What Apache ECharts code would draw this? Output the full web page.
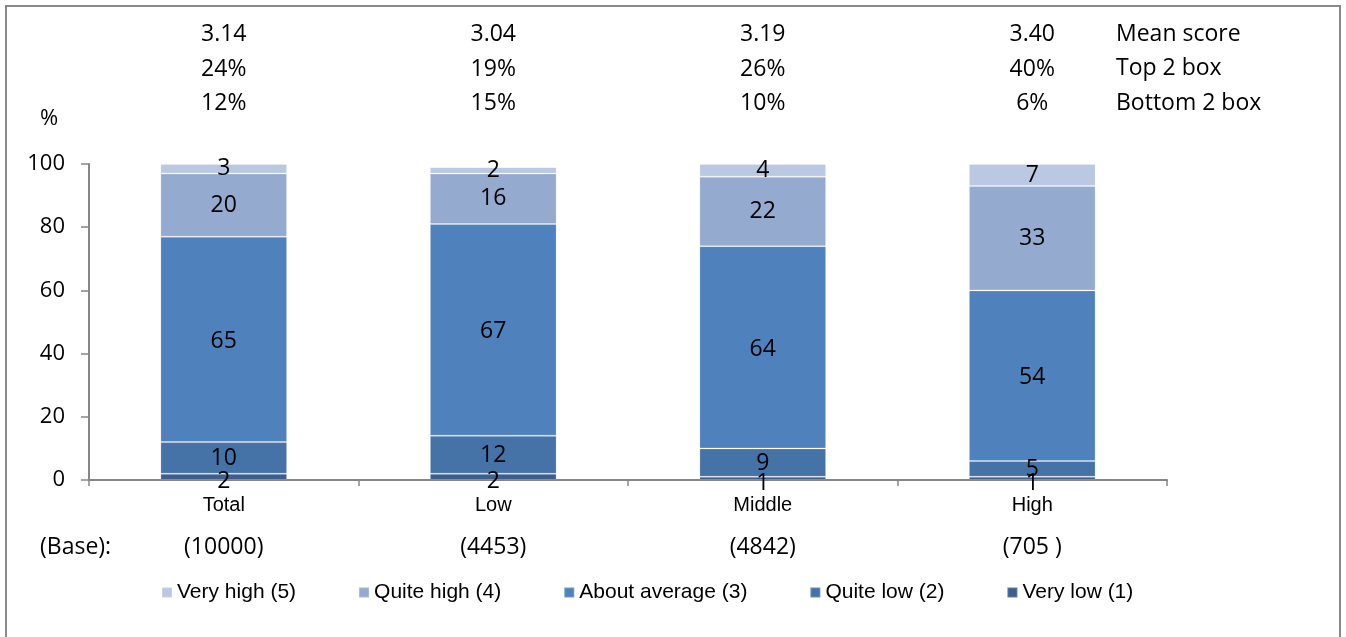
<!DOCTYPE html>
<html>
<head>
<meta charset="utf-8">
<style>
  html, body { margin: 0; padding: 0; background: #ffffff; }
  #chart { width: 1346px; height: 637px; }
</style>
<script src="https://cdn.jsdelivr.net/npm/echarts@6/dist/echarts.min.js"></script>
</head>
<body>
<div id="chart"></div>
<script>
// Income groups shown on the category axis
const categories = ['Total', 'Low', 'Middle', 'High'];
const baseSizes = ['(10000)', '(4453)', '(4842)', '(705 )'];

// Summary rows printed above each bar
const meanScores = ['3.14', '3.04', '3.19', '3.40'];
const top2Box = ['24%', '19%', '26%', '40%'];
const bottom2Box = ['12%', '15%', '10%', '6%'];
const summaryNames = ['Mean score', 'Top 2 box', 'Bottom 2 box'];

// Response distribution (%), bottom of the stack first
const veryLow = [2, 2, 1, 1];
const quiteLow = [10, 12, 9, 5];
const aboutAverage = [65, 67, 64, 54];
const quiteHigh = [20, 16, 22, 33];
const veryHigh = [3, 2, 4, 7];

const yTicks = [0, 20, 40, 60, 80, 100];

const bodyFont = '"Open Sans", "Noto Sans", sans-serif';
const sansFont = '"Liberation Sans", Arial, sans-serif';
const axisGrey = '#868686';

const stackDefs = [
  { name: 'Very low (1)', data: veryLow, color: '#3C5F90', labelOffset: [0, 5] },
  { name: 'Quite low (2)', data: quiteLow, color: '#4673A7', labelOffset: [0, 1] },
  { name: 'About average (3)', data: aboutAverage, color: '#4F81BD', labelOffset: [0, 2] },
  { name: 'Quite high (4)', data: quiteHigh, color: '#95AACF', labelOffset: [0, 0] },
  { name: 'Very high (5)', data: veryHigh, color: '#BAC8E1', labelOffset: [0, 0] }
];

const chart = echarts.init(document.getElementById('chart'), null, { renderer: 'canvas' });

const series = stackDefs.map(function (d) {
  return {
    name: d.name,
    type: 'bar',
    stack: 'dist',
    xAxisIndex: 0,
    yAxisIndex: 0,
    barWidth: '47%',
    data: d.data,
    itemStyle: {
      color: d.color,
      borderColor: 'rgba(255,255,255,0.2)',
      borderWidth: 1
    },
    label: {
      show: true,
      position: 'inside',
      offset: d.labelOffset,
      color: '#000',
      fontFamily: bodyFont,
      fontSize: 23
    },
    emphasis: { disabled: true }
  };
});

const option = {
  animation: false,
  backgroundColor: '#ffffff',
  grid: { left: 89, right: 179, top: 164, bottom: 157, containLabel: false },
  legend: {
    data: stackDefs.slice().reverse().map(function (d) { return d.name; }),
    left: 161,
    top: 582,
    padding: 0,
    itemWidth: 10,
    itemHeight: 10,
    itemGap: 62,
    icon: 'rect',
    textStyle: { fontFamily: sansFont, fontSize: 21, color: '#000' }
  },
  xAxis: [
    {
      type: 'category',
      data: categories,
      position: 'bottom',
      axisLine: { show: true, lineStyle: { color: axisGrey, width: 2 } },
      axisTick: { show: true, length: 6, lineStyle: { color: axisGrey, width: 1.5 } },
      axisLabel: {
        color: '#000', fontFamily: sansFont, fontSize: 20,
        margin: 13, lineHeight: 24
      }
    },
    {
      // summary rows above the plot
      type: 'category',
      data: categories,
      position: 'top',
      axisLine: { show: false },
      axisTick: { show: false },
      axisLabel: {
        color: '#000', fontFamily: bodyFont, fontSize: 23,
        lineHeight: 34.5, margin: 43,
        formatter: function (v, i) {
          return meanScores[i] + '\n' + top2Box[i] + '\n' + bottom2Box[i];
        }
      }
    },
    {
      // base sizes under the category names
      type: 'category',
      data: baseSizes,
      position: 'bottom',
      offset: 53,
      axisLine: { show: false },
      axisTick: { show: false },
      axisLabel: {
        color: '#000', fontFamily: bodyFont, fontSize: 23,
        lineHeight: 28, margin: 0
      }
    }
  ],
  yAxis: {
    type: 'value',
    min: 0,
    max: 100,
    interval: 20,
    axisLine: { show: true, lineStyle: { color: axisGrey, width: 2 } },
    axisTick: { show: true, length: 8, inside: false, lineStyle: { color: axisGrey, width: 1.5 } },
    splitLine: { show: false },
    axisLabel: {
      color: '#000', fontFamily: bodyFont, fontSize: 22, margin: 24,
      formatter: function (v) { return yTicks.indexOf(v) >= 0 ? String(v) : ''; }
    }
  },
  graphic: [
    {
      type: 'rect',
      shape: { x: 6, y: 6, width: 1334, height: 700 },
      style: { fill: 'none', stroke: '#898989', lineWidth: 2 },
      silent: true
    },
    {
      type: 'text',
      left: 40, top: 108,
      style: { text: '%', fontFamily: bodyFont, fontSize: 22, fill: '#000' }
    },
    {
      type: 'text',
      left: 40, top: 536,
      style: { text: '(Base):', fontFamily: bodyFont, fontSize: 23, fill: '#000' }
    },
    {
      type: 'text',
      left: 1116, top: 17,
      style: {
        text: summaryNames.join('\n'),
        fontFamily: bodyFont, fontSize: 23, lineHeight: 34.5, fill: '#000'
      }
    }
  ],
  series: series
};

chart.setOption(option);
</script>
</body>
</html>
